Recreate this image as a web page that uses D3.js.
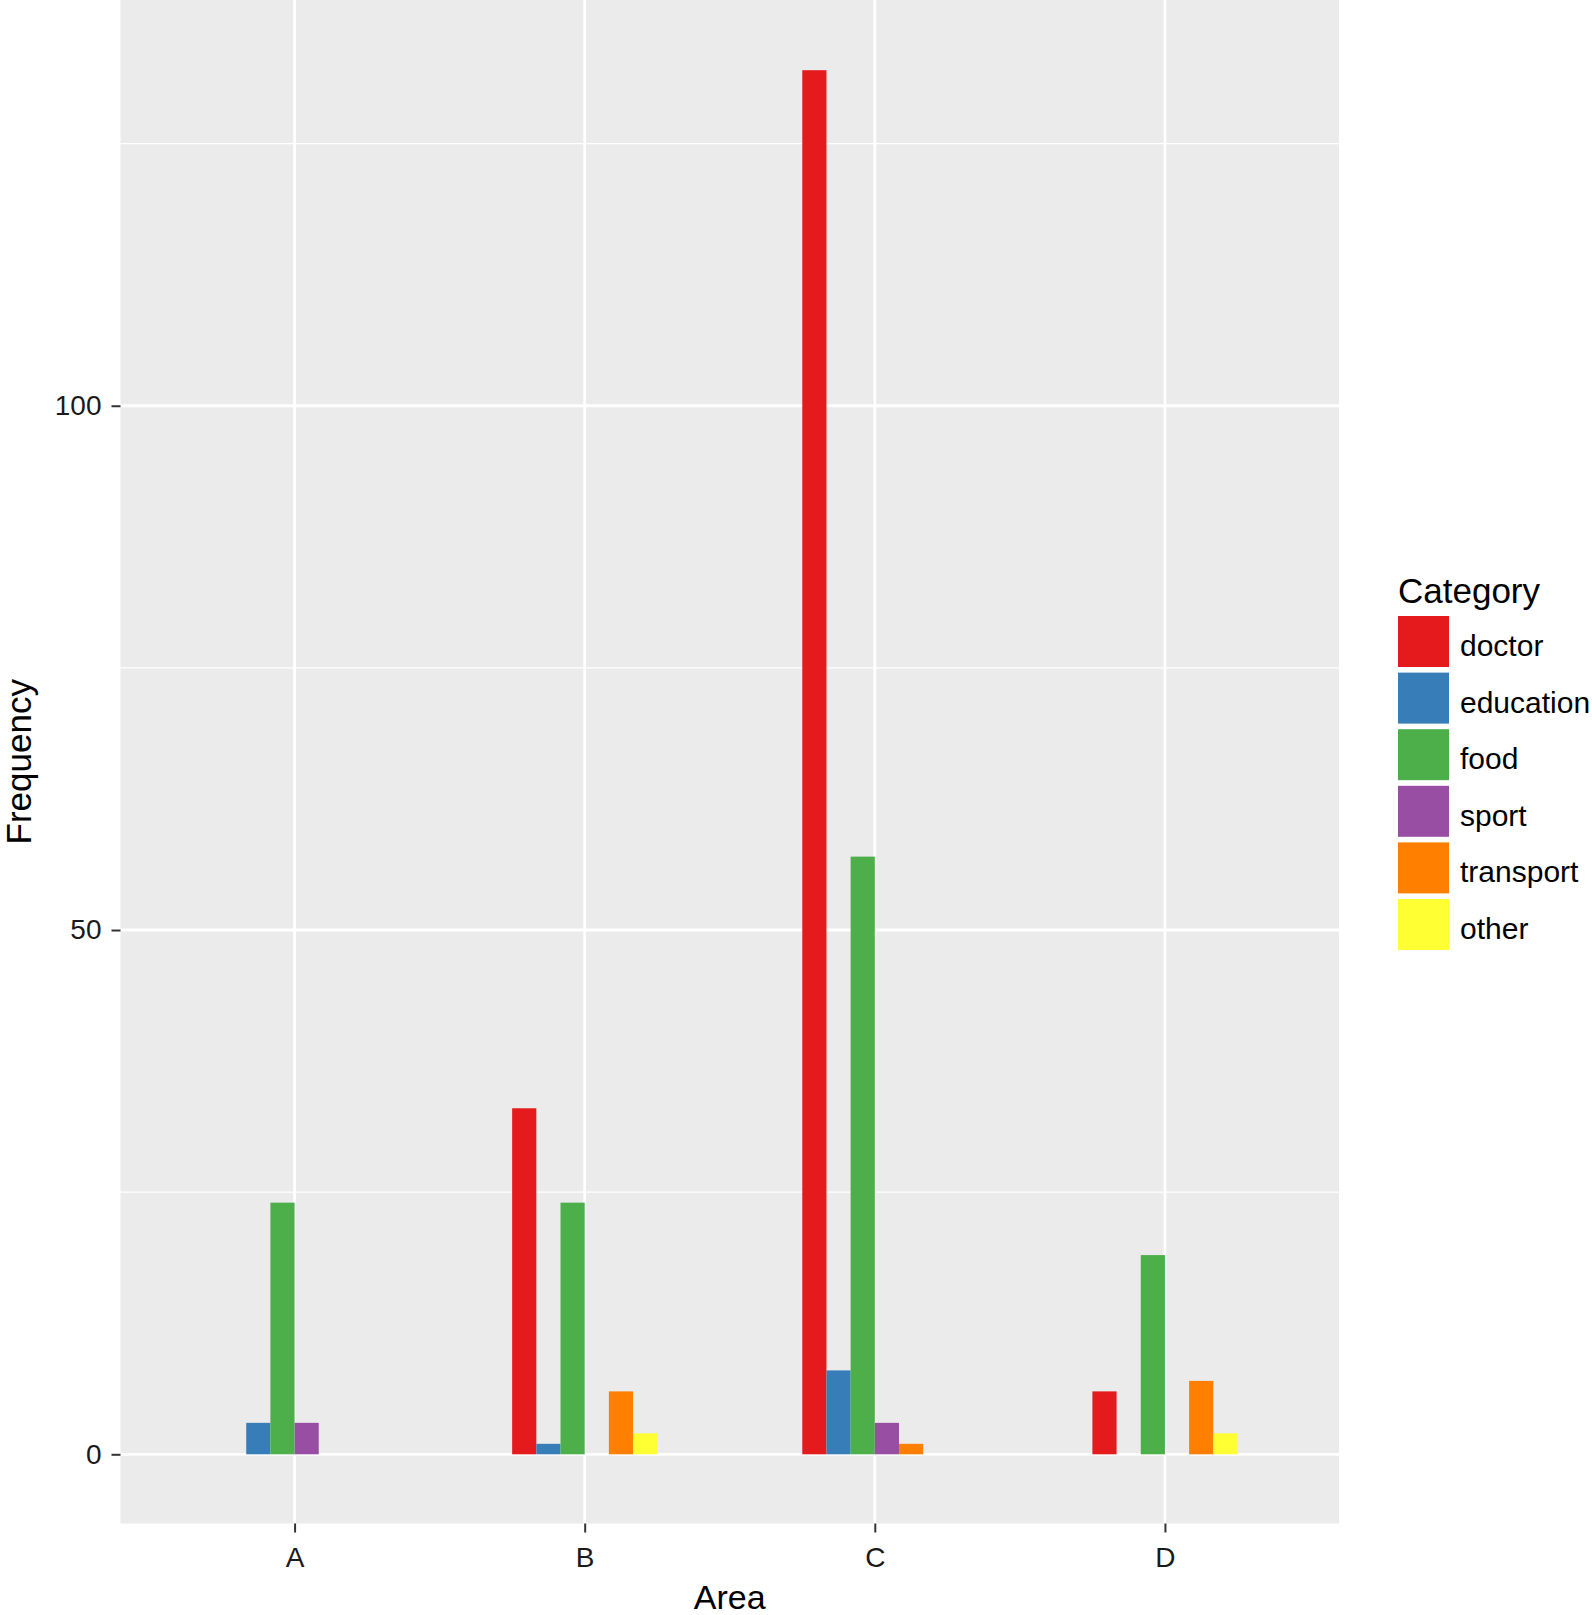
<!DOCTYPE html>
<html>
<head>
<meta charset="utf-8">
<script src="https://d3js.org/d3.v7.min.js"></script>
<style>
    body{ margin:0; background:#fff; }
    svg text{ font-family: "Liberation Sans", Arial, sans-serif; }
</style>
</head>
<body>
<div class="chart"></div>
<script>
//areas on the x axis
let areas = ["A", "B", "C", "D"];
//categories (fill)
let categories = ["doctor", "education", "food", "sport", "transport", "other"];
let catColors = ["#E41A1C", "#377EB8", "#4DAF4A", "#984EA3", "#FF7F00", "#FFFF33"];
//counts per category, one value per area (null = no bar)
let doctor    = [null, 33, 132, 6];
let education = [3, 1, 8, null];
let food      = [24, 24, 57, 19];
let sport     = [3, null, 3, null];
let transport = [null, 6, 1, 7];
let other     = [null, 2, null, 2];
let yTicks = [0, 50, 100];
let yMinor = [25, 75, 125];

let series = [doctor, education, food, sport, transport, other];

//flatten into rows for drawing
let rows = [];
for(let c = 0; c < categories.length; c++){
    for(let a = 0; a < areas.length; a++){
        if(series[c][a] !== null){
            rows.push({area: areas[a], cat: categories[c], value: series[c][a]});
        }
    }
}

let W = 1592, H = 1615;
let pLeft = 120.5, pRight = 1339, pTop = 1, pBottom = 1523.5;

let svg = d3.select(".chart").append("svg")
    .attr("width", W)
    .attr("height", H);

//scales, ggplot style expansion
let maxVal = d3.max(rows, d => d.value);
let yScale = d3.scaleLinear()
    .domain([-0.05 * maxVal, maxVal * 1.05])
    .range([pBottom, pTop]);

let xScale = d3.scalePoint().domain(areas).range([pLeft, pRight]).padding(0.6);
let step = xScale.step();
//dodge: 6 slots across half a step
let dodge = d3.scaleBand().domain(categories).range([-0.25 * step, 0.25 * step]);
let color = d3.scaleOrdinal().domain(categories).range(catColors);

//panel background
svg.append("rect")
    .attr("x", pLeft).attr("y", 0)
    .attr("width", pRight - pLeft).attr("height", pBottom)
    .attr("fill", "#EBEBEB");

//minor grid
svg.append("g").selectAll("line").data(yMinor).join("line")
    .attr("x1", pLeft).attr("x2", pRight)
    .attr("y1", d => yScale(d)).attr("y2", d => yScale(d))
    .attr("stroke", "#fff").attr("stroke-width", 1.4);

//major grid
svg.append("g").selectAll("line").data(yTicks).join("line")
    .attr("x1", pLeft).attr("x2", pRight)
    .attr("y1", d => yScale(d)).attr("y2", d => yScale(d))
    .attr("stroke", "#fff").attr("stroke-width", 2.8);
svg.append("g").selectAll("line").data(areas).join("line")
    .attr("x1", d => xScale(d)).attr("x2", d => xScale(d))
    .attr("y1", 0).attr("y2", pBottom)
    .attr("stroke", "#fff").attr("stroke-width", 2.8);

//bars
svg.append("g").selectAll("rect").data(rows).join("rect")
    .attr("x", d => xScale(d.area) + dodge(d.cat))
    .attr("width", dodge.bandwidth())
    .attr("y", d => yScale(d.value))
    .attr("height", d => yScale(0) - yScale(d.value))
    .attr("fill", d => color(d.cat));

//y axis
let yAxis = d3.axisLeft(yScale).tickValues(yTicks).tickSize(9).tickPadding(10);
let ya = svg.append("g").attr("transform", "translate(" + pLeft + ",0)").call(yAxis);
ya.select(".domain").remove();
ya.selectAll("line").attr("stroke", "#333").attr("stroke-width", 2);
ya.selectAll("text").attr("font-size", "28px").attr("fill", "#1a1a1a")
    .attr("font-family", "'Liberation Sans', Arial, sans-serif");

//x axis
let xAxis = d3.axisBottom(xScale).tickSize(9).tickPadding(15);
let xa = svg.append("g").attr("transform", "translate(0," + pBottom + ")").call(xAxis);
xa.select(".domain").remove();
xa.selectAll("line").attr("stroke", "#333").attr("stroke-width", 2);
xa.selectAll("text").attr("font-size", "28px").attr("fill", "#1a1a1a")
    .attr("font-family", "'Liberation Sans', Arial, sans-serif");

//axis titles
svg.append("text")
    .attr("x", (pLeft + pRight) / 2).attr("y", 1609)
    .attr("text-anchor", "middle")
    .attr("font-size", "34px").attr("fill", "#000")
    .text("Area");
svg.append("text")
    .attr("transform", "translate(31," + (pBottom / 2) + ") rotate(-90)")
    .attr("text-anchor", "middle")
    .attr("font-size", "35px").attr("fill", "#000")
    .text("Frequency");

//legend
let legend = svg.append("g").attr("transform", "translate(1398,0)");
legend.append("text")
    .attr("x", 0).attr("y", 603)
    .attr("font-size", "35px").attr("fill", "#000")
    .text("Category");
let keys = legend.selectAll("g.key").data(categories).join("g")
    .attr("class", "key")
    .attr("transform", (d, i) => "translate(0," + (616 + i * 56.6) + ")");
keys.append("rect")
    .attr("width", 51).attr("height", 51)
    .attr("fill", d => color(d));
keys.append("text")
    .attr("x", 62).attr("y", 40)
    .attr("font-size", "30px").attr("fill", "#000")
    .text(d => d);
</script>
</body>
</html>
